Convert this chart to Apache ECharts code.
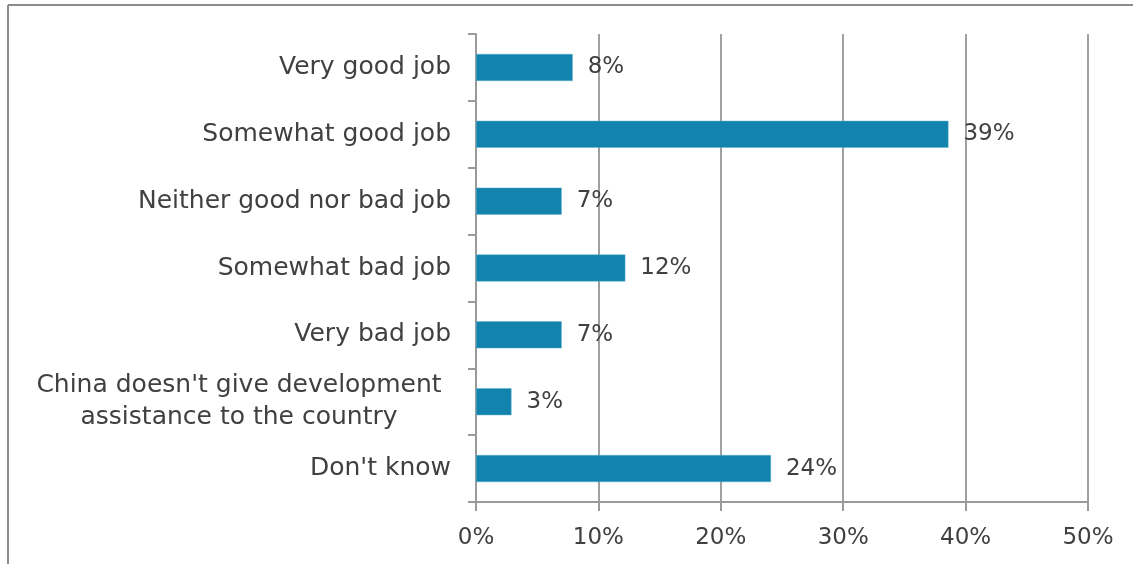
<!DOCTYPE html>
<html><head><meta charset="utf-8">
<script src="https://cdn.jsdelivr.net/npm/echarts@6/dist/echarts.min.js"></script>
<style>html,body{margin:0;padding:0;background:#fff}#c{width:1133px;height:564px}</style>
</head><body><div id="c"></div>
<script>
const categories = ["Very good job","Somewhat good job","Neither good nor bad job","Somewhat bad job","Very bad job","China doesn't give development\nassistance to the country","Don't know"];
const values = [7.9, 38.6, 7.0, 12.2, 7.0, 2.9, 24.1];
const valueLabels = ["8%","39%","7%","12%","7%","3%","24%"];
const xTicks = [0,10,20,30,40,50];

const FONT = "DejaVu Sans";
const chart = echarts.init(document.getElementById('c'), null, {renderer:'canvas'});
chart.setOption({
  animation:false,
  backgroundColor:'#fff',
  grid:{left:476,right:45,top:34,bottom:62,containLabel:false},
  xAxis:{type:'value',min:0,max:50,interval:10,
    axisLine:{show:true,lineStyle:{color:'#9a9a9a',width:2}},
    axisTick:{show:true,length:9,lineStyle:{color:'#9a9a9a',width:2}},
    splitLine:{show:true,lineStyle:{color:'#a0a0a0',width:2}},
    axisLabel:{margin:25,color:'#404040',fontFamily:FONT,fontSize:23,
      formatter:v=>(xTicks.indexOf(v)>=0?v:'')+'%'}},
  yAxis:{type:'category',inverse:true,data:categories,
    axisLine:{show:true,lineStyle:{color:'#9a9a9a',width:2}},
    axisTick:{show:true,length:8,lineStyle:{color:'#9a9a9a',width:2}},
    axisLabel:{margin:25,color:'#404040',fontFamily:FONT,fontSize:25,lineHeight:32,
      formatter:function(v){
        if(v.indexOf('\n')>=0){return v.split('\n').map(s=>'{c|'+s+'}').join('\n');}
        return v;},
      rich:{c:{width:424,align:'center',fontFamily:FONT,fontSize:25,color:'#404040',lineHeight:32}}}},
  series:[{type:'bar',data:values,barWidth:27,
    itemStyle:{color:'#1183AC',borderColor:'#5fb0cc',borderWidth:0.5},
    label:{show:true,position:'right',distance:15,color:'#404040',fontFamily:FONT,fontSize:23,
      formatter:p=>valueLabels[p.dataIndex]}}],
  graphic:[
    {type:'line',shape:{x1:8,y1:5,x2:1133,y2:5},style:{stroke:'#8c8c8c',lineWidth:2}},
    {type:'line',shape:{x1:8,y1:5,x2:8,y2:564},style:{stroke:'#8c8c8c',lineWidth:2}}
  ]
});
</script></body></html>
